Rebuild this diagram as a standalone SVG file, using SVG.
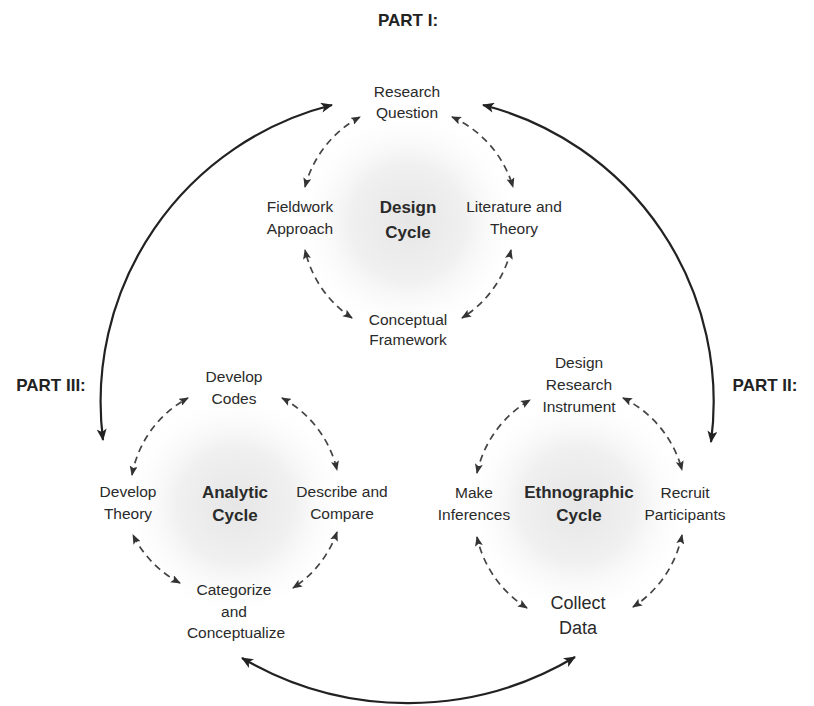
<svg xmlns="http://www.w3.org/2000/svg" width="814" height="706" viewBox="0 0 814 706">
<style>
.t{font-family:"Liberation Sans",Arial,sans-serif;font-size:15.5px;fill:#2a2a2a;text-anchor:middle}
.b{font-family:"Liberation Sans",Arial,sans-serif;font-size:17px;font-weight:bold;fill:#2a2a2a;text-anchor:middle}
.c{font-family:"Liberation Sans",Arial,sans-serif;font-size:18px;fill:#2a2a2a;text-anchor:middle}
.p{font-family:"Liberation Sans",Arial,sans-serif;font-size:17px;font-weight:bold;fill:#222;text-anchor:middle}
.d{fill:none;stroke:#444;stroke-width:1.7;stroke-dasharray:7 5;marker-start:url(#ah);marker-end:url(#ah)}
.s{fill:none;stroke:#222;stroke-width:2.2;marker-start:url(#bh);marker-end:url(#bh)}
</style>
<defs>
<radialGradient id="g">
<stop offset="0" stop-color="#e6e6e6"/>
<stop offset="0.5" stop-color="#f0f0f0"/>
<stop offset="1" stop-color="#ffffff" stop-opacity="0"/>
</radialGradient>
<marker id="ah" viewBox="0 0 10 8" refX="9" refY="4" markerWidth="10" markerHeight="8" markerUnits="userSpaceOnUse" orient="auto-start-reverse">
<path d="M0,0 L10,4 L0,8 L2,4 z" fill="#333" stroke="none"/>
</marker>
<marker id="bh" viewBox="0 0 12 10" refX="11" refY="5" markerWidth="13" markerHeight="10" markerUnits="userSpaceOnUse" orient="auto-start-reverse">
<path d="M0,0 L12,5 L0,10 L3,5 z" fill="#222" stroke="none"/>
</marker>
</defs>
<rect width="814" height="706" fill="#ffffff"/>
<circle cx="408" cy="222" r="115" fill="url(#g)"/>
<circle cx="236" cy="505" r="115" fill="url(#g)"/>
<circle cx="578" cy="505" r="115" fill="url(#g)"/>

<g id="connectors">
<path class="s" d="M 103 440 A 306 306 0 0 1 332 105"/>
<path class="s" d="M 483 105 A 306 306 0 0 1 711 442"/>
<path class="s" d="M 575 657 A 327 327 0 0 1 242 658"/>
<path class="d" d="M 452 117 A 111 111 0 0 1 513 187"/>
<path class="d" d="M 511 250 A 111 111 0 0 1 462 318"/>
<path class="d" d="M 352 318 A 111 111 0 0 1 305 250"/>
<path class="d" d="M 305 187 A 111 111 0 0 1 360 117"/>
<path class="d" d="M 282 398 A 110 110 0 0 1 337 470"/>
<path class="d" d="M 337 532 A 110 110 0 0 1 293 588"/>
<path class="d" d="M 180 583 A 110 110 0 0 1 133 535"/>
<path class="d" d="M 132 475 A 110 110 0 0 1 188 398"/>
<path class="d" d="M 623 398 A 112 112 0 0 1 682 470"/>
<path class="d" d="M 682 535 A 112 112 0 0 1 633 607"/>
<path class="d" d="M 527 608 A 112 112 0 0 1 477 537"/>
<path class="d" d="M 477 473 A 112 112 0 0 1 530 400"/>
</g>

<g id="part1"><text class="p" x="408" y="26">PART I:</text></g>
<g id="part2"><text class="p" x="765" y="391">PART II:</text></g>
<g id="part3"><text class="p" x="51" y="391">PART III:</text></g>

<g id="research-question"><text class="t" x="407" y="97">Research</text><text class="t" x="407" y="118">Question</text></g>
<g id="fieldwork-approach"><text class="t" x="300" y="212">Fieldwork</text><text class="t" x="300" y="234">Approach</text></g>
<g id="design-cycle"><text class="b" x="408" y="213">Design</text><text class="b" x="408" y="238">Cycle</text></g>
<g id="literature-theory"><text class="t" x="514" y="212">Literature and</text><text class="t" x="514" y="234">Theory</text></g>
<g id="conceptual-framework"><text class="t" x="408" y="325">Conceptual</text><text class="t" x="408" y="345">Framework</text></g>

<g id="develop-codes"><text class="t" x="234" y="382">Develop</text><text class="t" x="234" y="404">Codes</text></g>
<g id="develop-theory"><text class="t" x="128" y="497">Develop</text><text class="t" x="128" y="519">Theory</text></g>
<g id="analytic-cycle"><text class="b" x="235" y="498">Analytic</text><text class="b" x="235" y="521">Cycle</text></g>
<g id="describe-compare"><text class="t" x="342" y="497">Describe and</text><text class="t" x="342" y="519">Compare</text></g>
<g id="categorize"><text class="t" x="234" y="595">Categorize</text><text class="t" x="234" y="617">and</text><text class="t" x="236" y="638">Conceptualize</text></g>

<g id="design-instrument"><text class="t" x="579" y="368">Design</text><text class="t" x="579" y="390">Research</text><text class="t" x="579" y="412">Instrument</text></g>
<g id="make-inferences"><text class="t" x="474" y="498">Make</text><text class="t" x="474" y="520">Inferences</text></g>
<g id="ethnographic-cycle"><text class="b" x="579" y="498">Ethnographic</text><text class="b" x="579" y="521">Cycle</text></g>
<g id="recruit-participants"><text class="t" x="685" y="498">Recruit</text><text class="t" x="685" y="520">Participants</text></g>
<g id="collect-data"><text class="c" x="578" y="609">Collect</text><text class="c" x="578" y="634">Data</text></g>
</svg>
